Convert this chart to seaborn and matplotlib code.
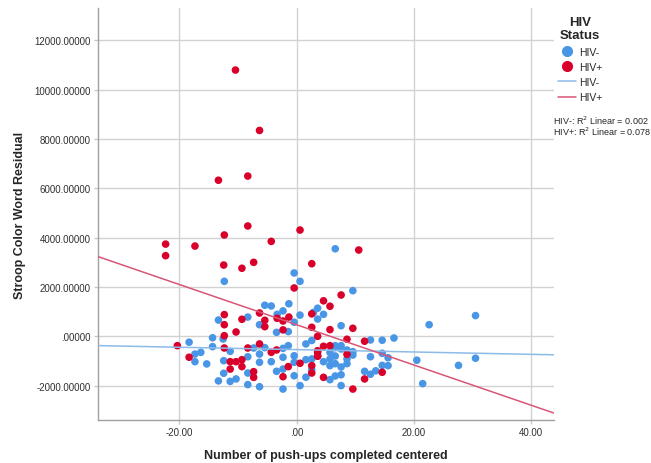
import matplotlib
matplotlib.use("Agg")
import matplotlib.pyplot as plt
from matplotlib.lines import Line2D
from matplotlib.ticker import FuncFormatter, MultipleLocator
import numpy as np
import pandas as pd
import seaborn as sns

# HIV- group (push-ups centered, Stroop residual)
neg_x = [6.6, -12.3, -0.4, 0.6, 9.6, -5.4, -4.3, -2.3, -3.3, -1.3, 3.6, 4.6, 3.6, 7.6,
         -13.3, -8.3, -6.3, -3.4, -1.4, -0.4, 0.6, -14.3, -14.3, -12.5, -18.3, -17.3,
         -16.3, -17.3, -15.3, -11.3, -12.4, -12.4, -13.3, -11.3, -10.3, -7.3, -5.4, -2.3,
         -8.3, -6.3, -6.3, -4.3, -2.3, -0.4, -0.4, 1.6, -8.3, -8.3, -6.3, -3.4, -2.3,
         -2.3, -0.4, 0.6, 1.6, 2.6, 1.6, 2.6, 12.6, 14.6, 16.6, 6.6, 7.6, 7.6, 9.6,
         2.6, 4.6, 5.7, 5.7, 6.6, 7.6, 8.6, 12.6, 14.6, 15.6, 14.6, 15.6, 13.5, 12.6,
         11.6, 5.7, 6.6, 7.6, 7.6, 20.5, 21.5, 22.6, 27.6, 30.5, 30.5,
         2.9, -1.4, 5.7, 6.6, 8.6, 9.6, 6.6, 8.6]
neg_y = [3550, 2230, 2570, 2230, 1850, 1260, 1230, 1030, 890, 1320, 1140, 890, 700, 430,
         660, 780, 470, 160, 190, 570, 860, -60, -420, -110, -240, -720,
         -650, -1030, -1120, -610, -990, -1500, -1810, -1830, -1730, -475, -460, -490,
         -830, -720, -1055, -1030, -850, -790, -1055, -950, -1490, -1960, -2045, -1420, -1330,
         -2140, -1600, -2000, -1660, -1355, -310, -170, -150, -160, -70, -460, -380, -515, -625,
         -920, -1030, -920, -1190, -1110, -1245, -1110, -830, -690, -870, -1180, -1190, -1400, -1540,
         -1420, -1760, -1610, -1560, -2000, -970, -1920, 470, -1180, 840, -890,
         970, -380, -650, -800, -920, -760, -380, -556]

# HIV+ group
pos_x = [-10.4, -6.3, -13.3, -8.3, -8.3, -12.3, 0.6, -22.3, -17.3, -4.3, 10.6, -22.3,
         -12.4, -9.3, -7.3, 2.6, -0.4, 7.6, 4.6, 5.7, -6.3, -3.3, -1.3, 2.6, -2.3,
         -5.4, -5.4, -2.3, 2.6, 5.7, 9.6, -12.3, -12.3, -12.3, -9.3, -10.3, -20.3,
         -18.3, -12.3, -11.3, -10.3, -9.3, -11.3, -9.3, -8.3, -6.3, -4.3, -3.4, 0.6,
         2.6, 3.6, -1.4, -7.3, -7.3, -2.3, 2.6, 3.6, 3.6, 8.6, 11.6, 4.6, 5.7, 3.6,
         3.6, 8.6, 11.6, 14.6, 4.6, 9.6]
pos_y = [10800, 8350, 6330, 6500, 4475, 4110, 4310, 3740, 3660, 3850, 3500, 3270,
         2890, 2760, 3000, 2945, 1960, 1675, 1440, 1220, 945, 730, 780, 910, 620,
         650, 390, 260, 365, 270, 325, 880, 470, 25, 690, 175, -380,
         -850, -475, -1030, -1030, -950, -1330, -1230, -475, -310, -650, -555, -1095,
         -1190, -790, -1230, -1435, -1665, -1640, -1490, -650, 0, -120, -200, -405, -380, -585,
         -810, -730, -1730, -1460, -1665, -2140]

groups = ["HIV-", "HIV+"]
colors = ["#4a96e6", "#d9002b"]
line_colors = ["#8dbbe8", "#d95577"]
fit_intercept = [-540, 470]
fit_slope = [-4.8, -81.7]
r2_text = ["HIV-: R$^2$ Linear = 0.002", "HIV+: R$^2$ Linear = 0.078"]

df = pd.DataFrame({
    "x": neg_x + pos_x,
    "y": neg_y + pos_y,
    "status": ["HIV-"] * len(neg_x) + ["HIV+"] * len(pos_x),
})

sns.set_theme(style="whitegrid")
plt.rcParams["font.family"] = ["Liberation Sans", "DejaVu Sans"]

fig = plt.figure(figsize=(6.51, 4.64), dpi=100)
ax = fig.add_axes([0.1498, 0.0927, 0.7012, 0.8873])

sns.scatterplot(data=df, x="x", y="y", hue="status", hue_order=groups,
                palette=colors, s=30, linewidth=0, legend=False, ax=ax, zorder=3)

for i in range(2):
    ax.axline((0, fit_intercept[i]), slope=fit_slope[i], color=line_colors[i],
              lw=1.1, zorder=4)

ax.set_xlim(-33.9, 43.87)
ax.set_ylim(-3395, 13306)
ax.xaxis.set_major_locator(MultipleLocator(20))
ax.yaxis.set_major_locator(MultipleLocator(2000))


def spss_fmt(decimals):
    def f(v, pos):
        s = f"{v:.{decimals}f}"
        if s.startswith("0."):
            s = s[1:]
        elif s.startswith("-0."):
            s = "-" + s[2:]
        return s
    return FuncFormatter(f)


ax.xaxis.set_major_formatter(spss_fmt(2))
ax.yaxis.set_major_formatter(spss_fmt(5))

ax.grid(True, color="#d2d2d2", lw=1)
for side in ["top", "right"]:
    ax.spines[side].set_visible(False)
for side in ["left", "bottom"]:
    ax.spines[side].set_color("#a0a0a0")
    ax.spines[side].set_linewidth(1)
ax.tick_params(axis="both", labelsize=7, colors="#303030", length=3, width=1,
               pad=2, direction="out", left=True, bottom=True)
ax.tick_params(axis="both", color="#c8c8c8")

ax.set_xlabel("Number of push-ups completed centered", fontsize=9, fontweight="bold",
              labelpad=9)
ax.set_ylabel("Stroop Color Word Residual", fontsize=9, fontweight="bold", labelpad=6)

handles = [
    Line2D([], [], marker="o", ls="", color=colors[0], markersize=7, label="HIV-"),
    Line2D([], [], marker="o", ls="", color=colors[1], markersize=7, label="HIV+"),
    Line2D([], [], color=line_colors[0], lw=1.1, label="HIV-"),
    Line2D([], [], color=line_colors[1], lw=1.1, label="HIV+"),
]
leg = fig.legend(handles=handles, title="HIV\nStatus", loc="upper left",
                 bbox_to_anchor=(0.851, 0.973), frameon=False, fontsize=7.5,
                 handlelength=1.7, handletextpad=0.3, labelspacing=0.5,
                 borderaxespad=0, alignment="center",
                 title_fontproperties={"weight": "bold", "size": 9.5})
leg.get_title().set_multialignment("center")

fig.text(553 / 651, 1 - 121 / 464, r2_text[0], fontsize=6.5, va="center", ha="left")
fig.text(553 / 651, 1 - 132 / 464, r2_text[1], fontsize=6.5, va="center", ha="left")

fig.savefig("out.png", dpi=100)
